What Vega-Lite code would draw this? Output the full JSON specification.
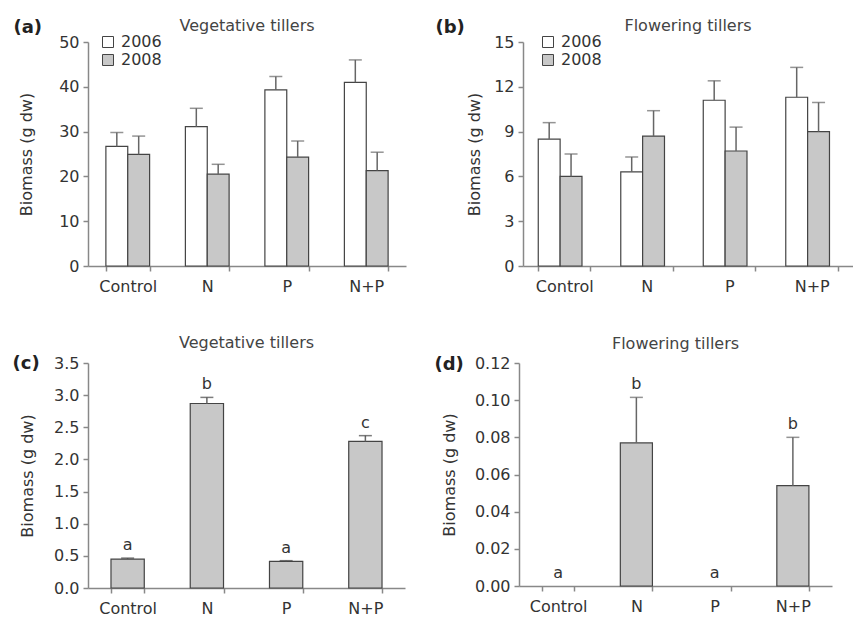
{
  "$schema": "https://vega.github.io/schema/vega-lite/v6.json",
  "padding": {"left": 12, "top": 18, "right": 0, "bottom": 0},
  "autosize": {"type": "pad"},
  "background": "white",
  "config": {
    "view": {"stroke": null},
    "font": "DejaVu Sans",
    "axis": {"domainColor": "#888", "domainWidth": 1.5, "tickColor": "#888", "tickWidth": 1.5, "tickSize": 5, "labelFont": "DejaVu Sans", "labelFontSize": 16, "labelColor": "#333", "labelOverlap": false, "titleFont": "DejaVu Sans", "titleFontSize": 16, "titleFontWeight": "normal", "titleColor": "#333", "grid": false},
    "title": {"font": "DejaVu Sans", "fontSize": 16, "fontWeight": "normal", "color": "#444", "anchor": "middle", "frame": "group"}
  },
  "datasets": {
    "vegA": [
      {"treatment": "Control", "year": "2006", "biomass": 26.7, "upper": 29.8},
      {"treatment": "Control", "year": "2008", "biomass": 24.9, "upper": 29.0},
      {"treatment": "N", "year": "2006", "biomass": 31.1, "upper": 35.2},
      {"treatment": "N", "year": "2008", "biomass": 20.5, "upper": 22.7},
      {"treatment": "P", "year": "2006", "biomass": 39.3, "upper": 42.3},
      {"treatment": "P", "year": "2008", "biomass": 24.3, "upper": 27.9},
      {"treatment": "N+P", "year": "2006", "biomass": 41.0, "upper": 46.0},
      {"treatment": "N+P", "year": "2008", "biomass": 21.3, "upper": 25.4}
    ],
    "flowB": [
      {"treatment": "Control", "year": "2006", "biomass": 8.5, "upper": 9.6},
      {"treatment": "Control", "year": "2008", "biomass": 6.0, "upper": 7.5},
      {"treatment": "N", "year": "2006", "biomass": 6.3, "upper": 7.3},
      {"treatment": "N", "year": "2008", "biomass": 8.7, "upper": 10.4},
      {"treatment": "P", "year": "2006", "biomass": 11.1, "upper": 12.4},
      {"treatment": "P", "year": "2008", "biomass": 7.7, "upper": 9.3},
      {"treatment": "N+P", "year": "2006", "biomass": 11.3, "upper": 13.3},
      {"treatment": "N+P", "year": "2008", "biomass": 9.0, "upper": 10.95}
    ],
    "vegC": [
      {"treatment": "Control", "biomass": 0.45, "upper": 0.465, "letter": "a"},
      {"treatment": "N", "biomass": 2.87, "upper": 2.965, "letter": "b"},
      {"treatment": "P", "biomass": 0.415, "upper": 0.425, "letter": "a"},
      {"treatment": "N+P", "biomass": 2.28, "upper": 2.37, "letter": "c"}
    ],
    "flowD": [
      {"treatment": "Control", "biomass": 0, "upper": 0, "letter": "a"},
      {"treatment": "N", "biomass": 0.077, "upper": 0.1015, "letter": "b"},
      {"treatment": "P", "biomass": 0, "upper": 0, "letter": "a"},
      {"treatment": "N+P", "biomass": 0.054, "upper": 0.080, "letter": "b"}
    ]
  },
  "spacing": 41,
  "resolve": {"scale": {"fill": "independent"}, "legend": {"fill": "independent"}},
  "vconcat": [
    {
      "spacing": 29,
      "resolve": {"scale": {"fill": "independent"}, "legend": {"fill": "independent"}},
      "hconcat": [
        {
          "width": 318, "height": 224,
          "title": {"text": "Vegetative tillers", "offset": -16},
          "data": {"name": "vegA"},
          "resolve": {"axis": {"x": "independent"}},
          "layer": [
            {
              "mark": {"type": "bar", "stroke": "#444", "strokeWidth": 1.2},
              "encoding": {
                "x": {"field": "treatment", "type": "nominal", "sort": ["Control", "N", "P", "N+P"], "scale": {"paddingInner": 0.45, "paddingOuter": 0.225}, "axis": {"orient": "bottom", "title": null, "labelAngle": 0, "tickBand": "extent", "labelPadding": 7}},
                "xOffset": {"field": "year", "type": "nominal", "scale": {"paddingInner": 0, "paddingOuter": 0}},
                "y": {"field": "biomass", "type": "quantitative", "scale": {"domain": [0, 50], "nice": false}, "axis": {"title": "Biomass (g dw)", "values": [0, 10, 20, 30, 40, 50], "tickCount": 20, "titlePadding": 24, "labelPadding": 4}},
                "fill": {"field": "year", "type": "nominal", "scale": {"domain": ["2006", "2008"], "range": ["#ffffff", "#c8c8c8"]}, "legend": {"orient": "none", "legendX": 12, "legendY": -8, "title": null, "symbolType": "square", "symbolSize": 121, "symbolStrokeColor": "#444", "symbolStrokeWidth": 1, "labelFontSize": 16, "labelColor": "#333", "labelFont": "DejaVu Sans", "padding": 0, "rowPadding": 2, "labelOffset": 5}}
              }
            },
            {
              "mark": {"type": "rule", "color": "#666", "strokeWidth": 1.5},
              "encoding": {
                "x": {"field": "treatment", "type": "nominal", "sort": ["Control", "N", "P", "N+P"], "axis": {"orient": "top", "title": "(a)", "labels": false, "ticks": false, "domain": false, "titleX": -75, "titleY": -15, "titleAlign": "left", "titleBaseline": "middle", "titleAngle": 0, "titleFontSize": 18, "titleFontWeight": "bold", "titleColor": "#222"}},
                "xOffset": {"field": "year", "type": "nominal"},
                "y": {"field": "biomass", "type": "quantitative"},
                "y2": {"field": "upper"}
              }
            },
            {
              "mark": {"type": "tick", "color": "#666", "thickness": 1.5, "size": 13},
              "encoding": {
                "x": {"field": "treatment", "type": "nominal", "sort": ["Control", "N", "P", "N+P"], "axis": null},
                "xOffset": {"field": "year", "type": "nominal"},
                "y": {"field": "upper", "type": "quantitative"}
              }
            }
          ]
        },
        {
          "width": 330, "height": 224,
          "title": {"text": "Flowering tillers", "offset": -16},
          "data": {"name": "flowB"},
          "resolve": {"axis": {"x": "independent"}},
          "layer": [
            {
              "mark": {"type": "bar", "stroke": "#444", "strokeWidth": 1.2},
              "encoding": {
                "x": {"field": "treatment", "type": "nominal", "sort": ["Control", "N", "P", "N+P"], "scale": {"paddingInner": 0.37, "paddingOuter": 0.185}, "axis": {"orient": "bottom", "title": null, "labelAngle": 0, "tickBand": "extent", "labelPadding": 7}},
                "xOffset": {"field": "year", "type": "nominal", "scale": {"paddingInner": 0, "paddingOuter": 0}},
                "y": {"field": "biomass", "type": "quantitative", "scale": {"domain": [0, 15], "nice": false}, "axis": {"title": "Biomass (g dw)", "values": [0, 3, 6, 9, 12, 15], "tickCount": 20, "titlePadding": 11, "labelPadding": 4}},
                "fill": {"field": "year", "type": "nominal", "scale": {"domain": ["2006", "2008"], "range": ["#ffffff", "#c8c8c8"]}, "legend": {"orient": "none", "legendX": 17, "legendY": -8, "title": null, "symbolType": "square", "symbolSize": 121, "symbolStrokeColor": "#444", "symbolStrokeWidth": 1, "labelFontSize": 16, "labelColor": "#333", "labelFont": "DejaVu Sans", "padding": 0, "rowPadding": 2, "labelOffset": 5}}
              }
            },
            {
              "mark": {"type": "rule", "color": "#666", "strokeWidth": 1.5},
              "encoding": {
                "x": {"field": "treatment", "type": "nominal", "sort": ["Control", "N", "P", "N+P"], "axis": {"orient": "top", "title": "(b)", "labels": false, "ticks": false, "domain": false, "titleX": -88, "titleY": -15, "titleAlign": "left", "titleBaseline": "middle", "titleAngle": 0, "titleFontSize": 18, "titleFontWeight": "bold", "titleColor": "#222"}},
                "xOffset": {"field": "year", "type": "nominal"},
                "y": {"field": "biomass", "type": "quantitative"},
                "y2": {"field": "upper"}
              }
            },
            {
              "mark": {"type": "tick", "color": "#666", "thickness": 1.5, "size": 13},
              "encoding": {
                "x": {"field": "treatment", "type": "nominal", "sort": ["Control", "N", "P", "N+P"], "axis": null},
                "xOffset": {"field": "year", "type": "nominal"},
                "y": {"field": "upper", "type": "quantitative"}
              }
            }
          ]
        }
      ]
    },
    {
      "spacing": 29,
      "hconcat": [
        {
          "width": 317, "height": 225,
          "title": {"text": "Vegetative tillers", "offset": 3},
          "data": {"name": "vegC"},
          "resolve": {"axis": {"x": "independent"}},
          "layer": [
            {
              "mark": {"type": "bar", "fill": "#c8c8c8", "stroke": "#444", "strokeWidth": 1.2},
              "encoding": {
                "x": {"field": "treatment", "type": "nominal", "sort": ["Control", "N", "P", "N+P"], "scale": {"paddingInner": 0.58, "paddingOuter": 0.29}, "axis": {"orient": "bottom", "title": null, "labelAngle": 0, "tickBand": "extent", "labelPadding": 7}},
                "y": {"field": "biomass", "type": "quantitative", "scale": {"domain": [0, 3.5], "nice": false}, "axis": {"title": "Biomass (g dw)", "values": [0, 0.5, 1, 1.5, 2, 2.5, 3, 3.5], "tickCount": 20, "format": ".1f", "titlePadding": 18, "labelPadding": 4}}
              }
            },
            {
              "mark": {"type": "rule", "color": "#666", "strokeWidth": 1.5},
              "encoding": {
                "x": {"field": "treatment", "type": "nominal", "sort": ["Control", "N", "P", "N+P"], "axis": {"orient": "top", "title": "(c)", "labels": false, "ticks": false, "domain": false, "titleX": -76, "titleY": 0, "titleAlign": "left", "titleBaseline": "middle", "titleAngle": 0, "titleFontSize": 18, "titleFontWeight": "bold", "titleColor": "#222"}},
                "y": {"field": "biomass", "type": "quantitative"},
                "y2": {"field": "upper"}
              }
            },
            {
              "mark": {"type": "tick", "color": "#444", "thickness": 1.5, "size": 13},
              "encoding": {
                "x": {"field": "treatment", "type": "nominal", "sort": ["Control", "N", "P", "N+P"], "axis": null},
                "y": {"field": "upper", "type": "quantitative"}
              }
            },
            {
              "mark": {"type": "text", "dy": -8, "baseline": "alphabetic", "fontSize": 16, "color": "#333", "font": "DejaVu Sans"},
              "encoding": {
                "x": {"field": "treatment", "type": "nominal", "sort": ["Control", "N", "P", "N+P"], "axis": null},
                "y": {"field": "upper", "type": "quantitative"},
                "text": {"field": "letter"}
              }
            }
          ]
        },
        {
          "width": 313, "height": 223,
          "title": {"text": "Flowering tillers", "offset": 3},
          "data": {"name": "flowD"},
          "resolve": {"axis": {"x": "independent"}},
          "layer": [
            {
              "transform": [{"filter": "datum.biomass > 0"}],
              "mark": {"type": "bar", "fill": "#c8c8c8", "stroke": "#444", "strokeWidth": 1.2},
              "encoding": {
                "x": {"field": "treatment", "type": "nominal", "sort": ["Control", "N", "P", "N+P"], "scale": {"paddingInner": 0.59, "paddingOuter": 0.295}, "axis": {"orient": "bottom", "title": null, "labelAngle": 0, "tickBand": "extent", "labelPadding": 7}},
                "y": {"field": "biomass", "type": "quantitative", "scale": {"domain": [0, 0.12], "nice": false}, "axis": {"title": "Biomass (g dw)", "values": [0, 0.02, 0.04, 0.06, 0.08, 0.1, 0.12], "tickCount": 20, "format": ".2f", "titlePadding": 17, "labelPadding": 4}}
              }
            },
            {
              "transform": [{"filter": "datum.upper > 0"}],
              "mark": {"type": "rule", "color": "#666", "strokeWidth": 1.5},
              "encoding": {
                "x": {"field": "treatment", "type": "nominal", "sort": ["Control", "N", "P", "N+P"], "axis": {"orient": "top", "title": "(d)", "labels": false, "ticks": false, "domain": false, "titleX": -85, "titleY": 1, "titleAlign": "left", "titleBaseline": "middle", "titleAngle": 0, "titleFontSize": 18, "titleFontWeight": "bold", "titleColor": "#222"}},
                "y": {"field": "biomass", "type": "quantitative"},
                "y2": {"field": "upper"}
              }
            },
            {
              "transform": [{"filter": "datum.upper > 0"}],
              "mark": {"type": "tick", "color": "#666", "thickness": 1.5, "size": 13},
              "encoding": {
                "x": {"field": "treatment", "type": "nominal", "sort": ["Control", "N", "P", "N+P"], "axis": null},
                "y": {"field": "upper", "type": "quantitative"}
              }
            },
            {
              "mark": {"type": "text", "dy": -8, "baseline": "alphabetic", "fontSize": 16, "color": "#333", "font": "DejaVu Sans"},
              "encoding": {
                "x": {"field": "treatment", "type": "nominal", "sort": ["Control", "N", "P", "N+P"], "axis": null},
                "y": {"field": "upper", "type": "quantitative"},
                "text": {"field": "letter"}
              }
            }
          ]
        }
      ]
    }
  ]
}
